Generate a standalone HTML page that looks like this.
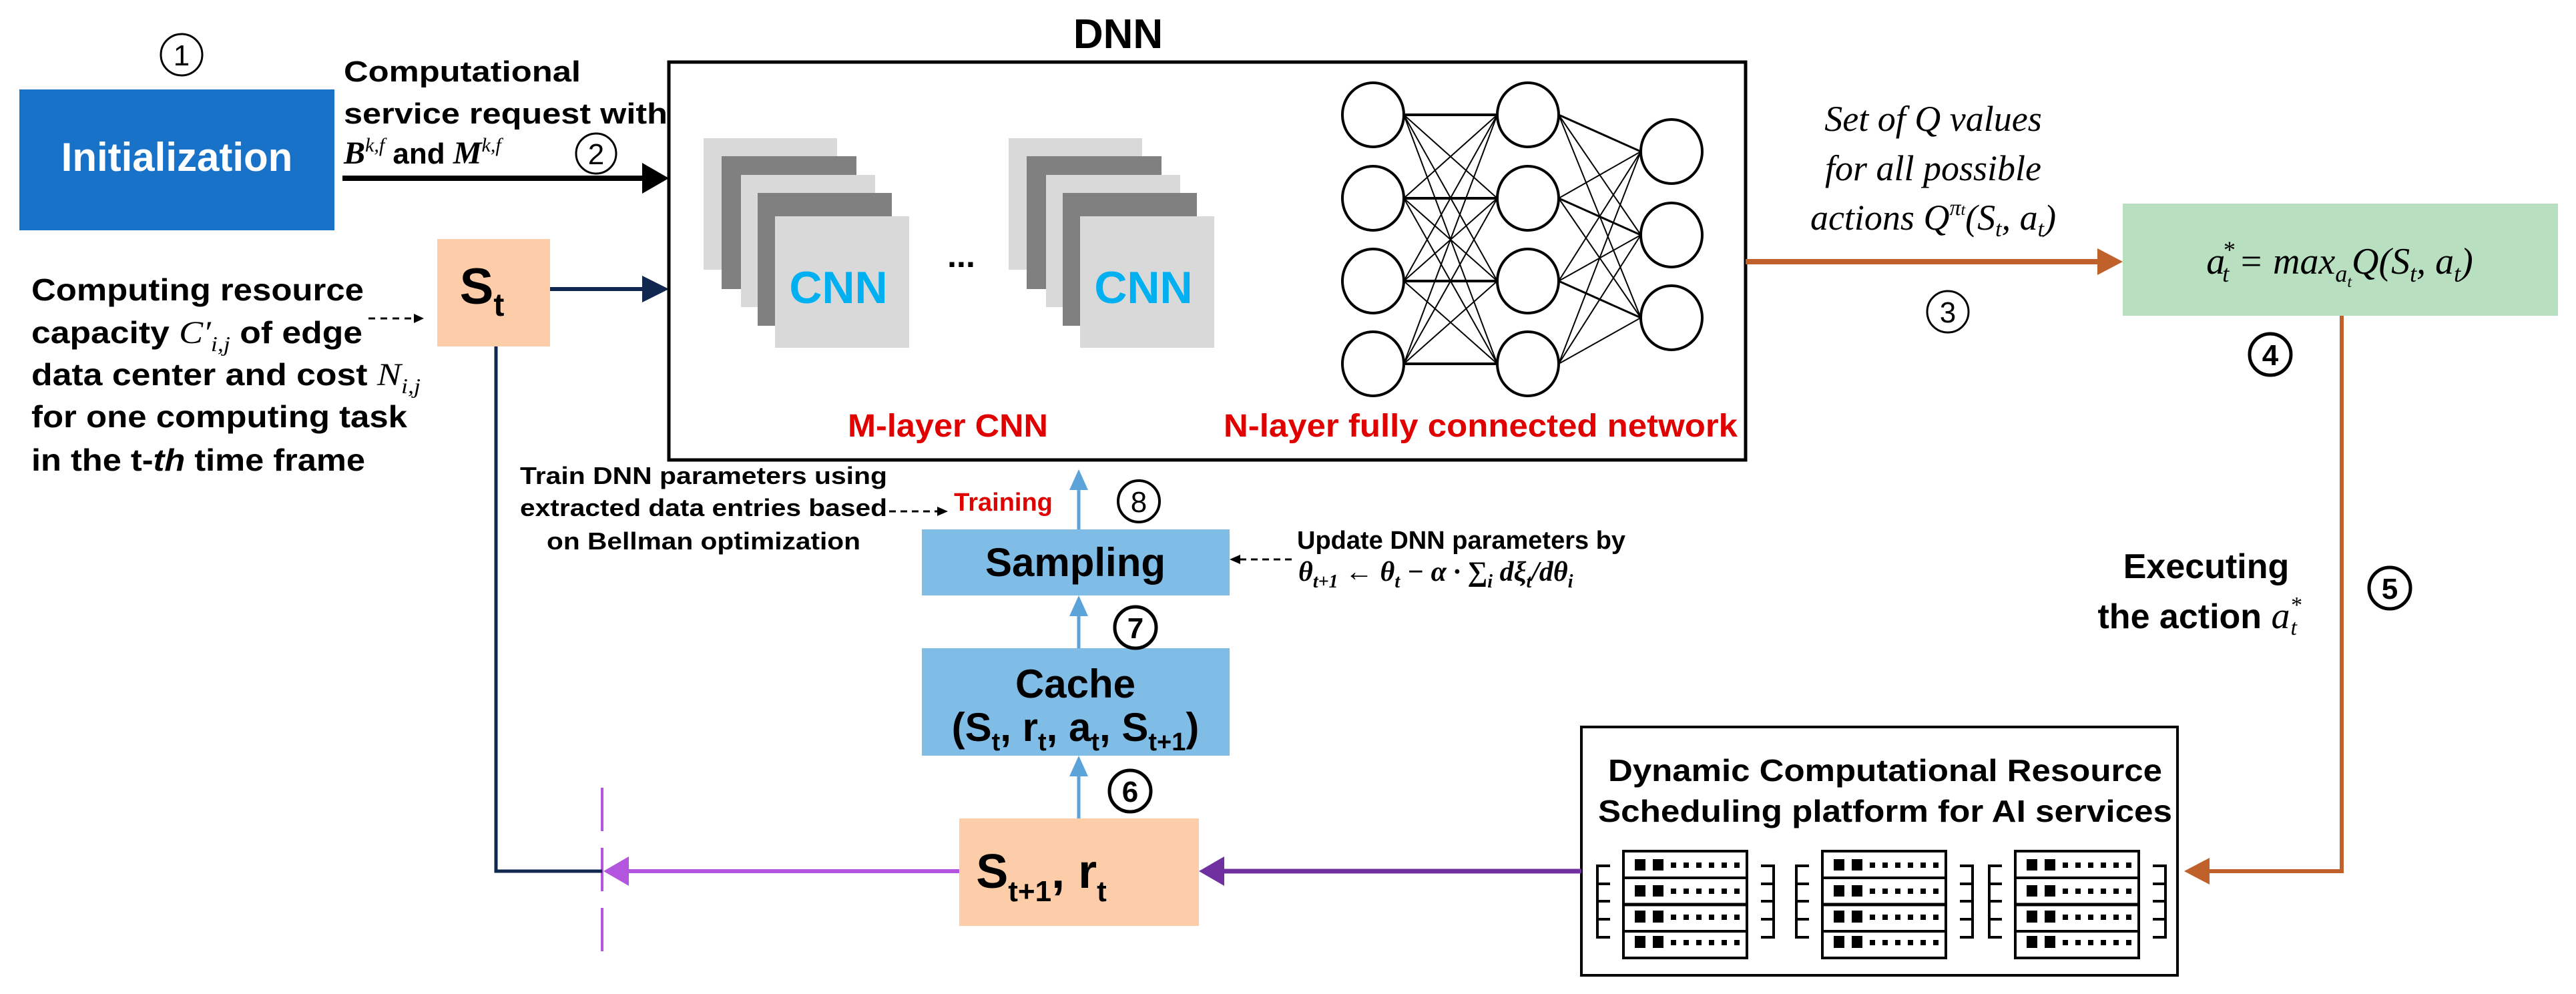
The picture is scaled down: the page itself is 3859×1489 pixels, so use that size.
<!DOCTYPE html>
<html><head><meta charset="utf-8"><style>
html,body{margin:0;padding:0;background:#fff;}
svg{display:block;}
.b{font-family:"Liberation Sans",Arial,sans-serif;font-weight:bold;}
.m{font-family:"Liberation Serif","DejaVu Serif",serif;font-style:italic;}
</style></head><body>
<svg width="3859" height="1489" viewBox="0 0 3859 1489" xmlns="http://www.w3.org/2000/svg">

<!-- Initialization -->
<circle cx="272" cy="82" r="31" fill="none" stroke="#000" stroke-width="3"/>
<text x="272" y="98" font-family="Liberation Sans,sans-serif" font-size="44" text-anchor="middle">1</text>
<rect x="29" y="134" width="472" height="211" fill="#1872c8"/>
<text x="265" y="256" class="b" font-size="60" fill="#fff" text-anchor="middle">Initialization</text>

<!-- Computational service request -->
<text x="515" y="122" class="b" font-size="44" textLength="355" lengthAdjust="spacingAndGlyphs">Computational</text>
<text x="515" y="185" class="b" font-size="44" textLength="485" lengthAdjust="spacingAndGlyphs">service request with</text>
<text x="515" y="245" font-size="44"><tspan class="m" font-weight="bold" font-size="48">B</tspan><tspan class="m" font-size="30" dy="-18">k,f</tspan><tspan class="b" dy="18"> and </tspan><tspan class="m" font-weight="bold" font-size="48">M</tspan><tspan class="m" font-size="30" dy="-18">k,f</tspan></text>
<circle cx="893" cy="230" r="30" fill="none" stroke="#000" stroke-width="3"/>
<text x="893" y="246" font-family="Liberation Sans,sans-serif" font-size="44" text-anchor="middle">2</text>
<line x1="513" y1="267" x2="965" y2="267" stroke="#000" stroke-width="8"/>
<path d="M962,244 L1002,267 L962,290 z" fill="#000"/>

<!-- St -->
<rect x="655" y="358" width="169" height="161" fill="#fdcdaa"/>
<text x="722" y="455" class="b" font-size="76" text-anchor="middle">S<tspan font-size="48" dy="18">t</tspan></text>
<line x1="824" y1="433" x2="965" y2="433" stroke="#10284f" stroke-width="6"/>
<path d="M962,413 L1002,433 L962,453 z" fill="#10284f"/>

<!-- left text -->
<g class="b" font-size="46">
<text x="47" y="450" textLength="498" lengthAdjust="spacingAndGlyphs">Computing resource</text>
<text x="47" y="514" textLength="496" lengthAdjust="spacingAndGlyphs">capacity <tspan class="m" style="font-weight:normal" font-size="48">C′</tspan><tspan class="m" style="font-weight:normal" font-size="32" dy="12">i,j</tspan><tspan dy="-12"> of edge</tspan></text>
<text x="47" y="577" textLength="583" lengthAdjust="spacingAndGlyphs">data center and cost <tspan class="m" style="font-weight:normal" font-size="48">N</tspan><tspan class="m" style="font-weight:normal" font-size="32" dy="12">i,j</tspan></text>
<text x="47" y="640" textLength="563" lengthAdjust="spacingAndGlyphs">for one computing task</text>
<text x="47" y="705" textLength="500" lengthAdjust="spacingAndGlyphs">in the t-<tspan font-style="italic">th</tspan> time frame</text>
</g>
<line x1="552" y1="477" x2="622" y2="477" stroke="#000" stroke-width="3" stroke-dasharray="10,8"/>
<path d="M620,470 L635,477 L620,484 z" fill="#000"/>

<!-- DNN box -->
<text x="1675" y="72" class="b" font-size="62" text-anchor="middle">DNN</text>
<rect x="1002" y="93" width="1613" height="596" fill="none" stroke="#000" stroke-width="5"/>

<!-- CNN stacks -->
<g>
<rect x="1054" y="207" width="200" height="197" fill="#d9d9d9"/>
<rect x="1081" y="234" width="202" height="199" fill="#808080"/>
<rect x="1110" y="262" width="201" height="198" fill="#d9d9d9"/>
<rect x="1135" y="289" width="201" height="199" fill="#808080"/>
<rect x="1161" y="324" width="201" height="197" fill="#d9d9d9"/>
<text x="1256" y="454" class="b" font-size="68" fill="#00b0f0" text-anchor="middle">CNN</text>
</g>
<g transform="translate(457,0)">
<rect x="1054" y="207" width="200" height="197" fill="#d9d9d9"/>
<rect x="1081" y="234" width="202" height="199" fill="#808080"/>
<rect x="1110" y="262" width="201" height="198" fill="#d9d9d9"/>
<rect x="1135" y="289" width="201" height="199" fill="#808080"/>
<rect x="1161" y="324" width="201" height="197" fill="#d9d9d9"/>
<text x="1256" y="454" class="b" font-size="68" fill="#00b0f0" text-anchor="middle">CNN</text>
</g>
<text x="1440" y="400" class="b" font-size="50" text-anchor="middle">...</text>

<!-- FC network -->
<g stroke="#000" stroke-width="2">
<line x1="2103" y1="172" x2="2243" y2="172" stroke-width="4"/>
<line x1="2103" y1="297" x2="2243" y2="297" stroke-width="4"/>
<line x1="2103" y1="421" x2="2243" y2="421" stroke-width="4"/>
<line x1="2103" y1="545" x2="2243" y2="545" stroke-width="4"/>
<line x1="2103" y1="172" x2="2243" y2="297"/><line x1="2103" y1="172" x2="2243" y2="421"/><line x1="2103" y1="172" x2="2243" y2="545"/>
<line x1="2103" y1="297" x2="2243" y2="172"/><line x1="2103" y1="297" x2="2243" y2="421"/><line x1="2103" y1="297" x2="2243" y2="545"/>
<line x1="2103" y1="421" x2="2243" y2="172"/><line x1="2103" y1="421" x2="2243" y2="297"/><line x1="2103" y1="421" x2="2243" y2="545"/>
<line x1="2103" y1="545" x2="2243" y2="172"/><line x1="2103" y1="545" x2="2243" y2="297"/><line x1="2103" y1="545" x2="2243" y2="421"/>
<line x1="2335" y1="172" x2="2458" y2="227" stroke-width="3"/><line x1="2335" y1="172" x2="2458" y2="352"/><line x1="2335" y1="172" x2="2458" y2="476"/>
<line x1="2335" y1="297" x2="2458" y2="227"/><line x1="2335" y1="297" x2="2458" y2="352" stroke-width="3"/><line x1="2335" y1="297" x2="2458" y2="476"/>
<line x1="2335" y1="421" x2="2458" y2="227"/><line x1="2335" y1="421" x2="2458" y2="352"/><line x1="2335" y1="421" x2="2458" y2="476" stroke-width="3"/>
<line x1="2335" y1="545" x2="2458" y2="227"/><line x1="2335" y1="545" x2="2458" y2="352"/><line x1="2335" y1="545" x2="2458" y2="476"/>
</g>
<g fill="#fff" stroke="#000" stroke-width="4">
<ellipse cx="2057" cy="172" rx="46" ry="48"/><ellipse cx="2057" cy="297" rx="46" ry="48"/><ellipse cx="2057" cy="421" rx="46" ry="48"/><ellipse cx="2057" cy="545" rx="46" ry="48"/>
<ellipse cx="2289" cy="172" rx="46" ry="48"/><ellipse cx="2289" cy="297" rx="46" ry="48"/><ellipse cx="2289" cy="421" rx="46" ry="48"/><ellipse cx="2289" cy="545" rx="46" ry="48"/>
<ellipse cx="2504" cy="227" rx="46" ry="48"/><ellipse cx="2504" cy="352" rx="46" ry="48"/><ellipse cx="2504" cy="476" rx="46" ry="48"/>
</g>
<text x="1420" y="654" class="b" font-size="48" fill="#e00000" text-anchor="middle" textLength="300" lengthAdjust="spacingAndGlyphs">M-layer CNN</text>
<text x="2218" y="654" class="b" font-size="48" fill="#e00000" text-anchor="middle" textLength="770" lengthAdjust="spacingAndGlyphs">N-layer fully connected network</text>

<!-- Q values -->
<g class="m" font-size="54" text-anchor="middle">
<text x="2896" y="196">Set of Q values</text>
<text x="2896" y="270">for all possible</text>
<text x="2896" y="344">actions Q<tspan font-size="34" dy="-22">π</tspan><tspan font-size="24">t</tspan><tspan font-size="54" dy="22">(S</tspan><tspan font-size="34" dy="10">t</tspan><tspan font-size="54" dy="-10">, a</tspan><tspan font-size="34" dy="10">t</tspan><tspan font-size="54" dy="-10">)</tspan></text>
</g>
<line x1="2615" y1="392" x2="3145" y2="392" stroke="#c0602a" stroke-width="8"/>
<path d="M3142,372 L3180,392 L3142,412 z" fill="#c0602a"/>
<circle cx="2918" cy="467" r="31" fill="none" stroke="#000" stroke-width="3"/>
<text x="2918" y="483" font-family="Liberation Sans,sans-serif" font-size="44" text-anchor="middle">3</text>

<rect x="3180" y="305" width="652" height="168" fill="#b8dfbf"/>
<text x="3505" y="410" class="m" font-size="56" text-anchor="middle">a<tspan font-size="36" dy="-24" dx="-4">*</tspan><tspan font-size="36" dy="36" dx="-18">t</tspan><tspan font-size="56" dy="-12"> = max</tspan><tspan font-size="36" dy="12">a</tspan><tspan font-size="24" dy="8">t</tspan><tspan font-size="56" dy="-20">Q(S</tspan><tspan font-size="36" dy="12">t</tspan><tspan font-size="56" dy="-12">, a</tspan><tspan font-size="36" dy="12">t</tspan><tspan font-size="56" dy="-12">)</tspan></text>
<circle cx="3401" cy="531" r="31" fill="none" stroke="#000" stroke-width="5"/>
<text x="3401" y="547" class="b" font-size="44" text-anchor="middle">4</text>

<!-- orange down path -->
<polyline points="3508,473 3508,1305 3305,1305" fill="none" stroke="#c0602a" stroke-width="6"/>
<path d="M3310,1285 L3272,1305 L3310,1325 z" fill="#c0602a"/>
<text x="3305" y="866" class="b" font-size="52" text-anchor="middle">Executing</text>
<text x="3295" y="941" class="b" font-size="52" text-anchor="middle">the action <tspan class="m" style="font-weight:normal" font-size="56">a</tspan><tspan class="m" style="font-weight:normal" font-size="34" dy="-24">*</tspan><tspan class="m" style="font-weight:normal" font-size="34" dy="34" dx="-16">t</tspan></text>
<circle cx="3580" cy="881" r="31" fill="none" stroke="#000" stroke-width="5"/>
<text x="3580" y="897" class="b" font-size="44" text-anchor="middle">5</text>

<!-- server box -->
<rect x="2369" y="1089" width="893" height="372" fill="#fff" stroke="#000" stroke-width="4"/>
<text x="2824" y="1170" class="b" font-size="46" text-anchor="middle" textLength="830" lengthAdjust="spacingAndGlyphs">Dynamic Computational Resource</text>
<text x="2824" y="1231" class="b" font-size="46" text-anchor="middle" textLength="860" lengthAdjust="spacingAndGlyphs">Scheduling platform for AI services</text>
<g id="rack">
<rect x="2432" y="1275" width="185" height="160" fill="#fff" stroke="#000" stroke-width="4"/>
<line x1="2432" y1="1315" x2="2617" y2="1315" stroke="#000" stroke-width="4"/>
<line x1="2432" y1="1355" x2="2617" y2="1355" stroke="#000" stroke-width="5"/>
<line x1="2432" y1="1395" x2="2617" y2="1395" stroke="#000" stroke-width="4"/>
<g fill="#000">
<rect x="2449" y="1287" width="16" height="17"/><rect x="2476" y="1287" width="16" height="17"/>
<rect x="2449" y="1326" width="16" height="17"/><rect x="2476" y="1326" width="16" height="17"/>
<rect x="2449" y="1364" width="16" height="18"/><rect x="2476" y="1364" width="16" height="18"/>
<rect x="2449" y="1402" width="16" height="18"/><rect x="2476" y="1402" width="16" height="18"/>
</g>
<g stroke="#000" stroke-width="8" stroke-dasharray="8,11">
<line x1="2503" y1="1296" x2="2612" y2="1296"/><line x1="2503" y1="1335" x2="2612" y2="1335"/>
<line x1="2503" y1="1374" x2="2612" y2="1374"/><line x1="2503" y1="1412" x2="2612" y2="1412"/>
</g>
<g fill="none" stroke="#000" stroke-width="4">
<polyline points="2412,1297 2393,1297 2393,1404 2412,1404"/>
<line x1="2393" y1="1324" x2="2412" y2="1324"/><line x1="2393" y1="1350" x2="2412" y2="1350"/><line x1="2393" y1="1377" x2="2412" y2="1377"/>
<polyline points="2638,1297 2657,1297 2657,1404 2638,1404"/>
<line x1="2657" y1="1324" x2="2638" y2="1324"/><line x1="2657" y1="1350" x2="2638" y2="1350"/><line x1="2657" y1="1377" x2="2638" y2="1377"/>
</g>
</g>
<use href="#rack" transform="translate(298,0)"/>
<use href="#rack" transform="translate(587,0)"/>

<!-- purple arrows -->
<line x1="2369" y1="1305" x2="1830" y2="1305" stroke="#7030a0" stroke-width="7"/>
<path d="M1834,1283 L1796,1305 L1834,1327 z" fill="#7030a0"/>
<rect x="1437" y="1226" width="359" height="161" fill="#fdcdaa"/>
<text x="1560" y="1330" class="b" font-size="72" text-anchor="middle">S<tspan font-size="44" dy="20">t+1</tspan><tspan font-size="72" dy="-20">, r</tspan><tspan font-size="44" dy="20">t</tspan></text>
<line x1="1437" y1="1305" x2="935" y2="1305" stroke="#b455e0" stroke-width="6"/>
<path d="M942,1283 L904,1305 L942,1327 z" fill="#b455e0"/>
<line x1="902" y1="1180" x2="902" y2="1431" stroke="#b455e0" stroke-width="4" stroke-dasharray="65,25"/>
<polyline points="743,519 743,1305 902,1305" fill="none" stroke="#10284f" stroke-width="5"/>

<!-- cache / sampling -->
<rect x="1381" y="971" width="461" height="161" fill="#80bde6"/>
<text x="1611" y="1045" class="b" font-size="60" text-anchor="middle">Cache</text>
<text x="1611" y="1110" class="b" font-size="60" text-anchor="middle">(S<tspan font-size="38" dy="14">t</tspan><tspan dy="-14">, r</tspan><tspan font-size="38" dy="14">t</tspan><tspan dy="-14">, a</tspan><tspan font-size="38" dy="14">t</tspan><tspan dy="-14">, S</tspan><tspan font-size="38" dy="14">t+1</tspan><tspan dy="-14">)</tspan></text>
<rect x="1381" y="793" width="461" height="99" fill="#80bde6"/>
<text x="1611" y="863" class="b" font-size="60" text-anchor="middle">Sampling</text>
<g stroke="#5ba3d9" stroke-width="5">
<line x1="1616" y1="1226" x2="1616" y2="1160"/>
<line x1="1616" y1="971" x2="1616" y2="920"/>
<line x1="1616" y1="793" x2="1616" y2="730"/>
</g>
<g fill="#5ba3d9">
<path d="M1602,1163 L1616,1132 L1630,1163 z"/>
<path d="M1602,923 L1616,892 L1630,923 z"/>
<path d="M1602,734 L1616,703 L1630,734 z"/>
</g>
<circle cx="1693" cy="1185" r="31" fill="none" stroke="#000" stroke-width="5"/>
<text x="1693" y="1201" class="b" font-size="44" text-anchor="middle">6</text>
<circle cx="1701" cy="940" r="31" fill="none" stroke="#000" stroke-width="5"/>
<text x="1701" y="956" class="b" font-size="44" text-anchor="middle">7</text>
<circle cx="1706" cy="751" r="31" fill="none" stroke="#000" stroke-width="4"/>
<text x="1706" y="767" font-family="Liberation Sans,sans-serif" font-size="44" text-anchor="middle">8</text>
<text x="1503" y="765" class="b" font-size="38" fill="#e00000" text-anchor="middle">Training</text>

<g class="b" font-size="36">
<text x="779" y="725" textLength="550" lengthAdjust="spacingAndGlyphs">Train DNN parameters using</text>
<text x="779" y="773" textLength="550" lengthAdjust="spacingAndGlyphs">extracted data entries based</text>
<text x="819" y="823" textLength="470" lengthAdjust="spacingAndGlyphs">on Bellman optimization</text>
</g>
<line x1="1332" y1="766" x2="1405" y2="766" stroke="#000" stroke-width="3" stroke-dasharray="10,7"/>
<path d="M1404,759 L1420,766 L1404,773 z" fill="#000"/>

<text x="1943" y="822" class="b" font-size="38">Update DNN parameters by</text>
<text x="1945" y="870" class="m" font-weight="bold" font-size="42">θ<tspan font-size="28" dy="10">t+1</tspan><tspan dy="-10"> ← θ</tspan><tspan font-size="28" dy="10">t</tspan><tspan dy="-10"> − α · ∑</tspan><tspan font-size="28" dy="10">i</tspan><tspan dy="-10"> dξ</tspan><tspan font-size="28" dy="10">t</tspan><tspan dy="-10">/dθ</tspan><tspan font-size="28" dy="10">i</tspan></text>
<line x1="1935" y1="838" x2="1858" y2="838" stroke="#000" stroke-width="3" stroke-dasharray="10,7"/>
<path d="M1858,831 L1842,838 L1858,845 z" fill="#000"/>
</svg>
</body></html>
